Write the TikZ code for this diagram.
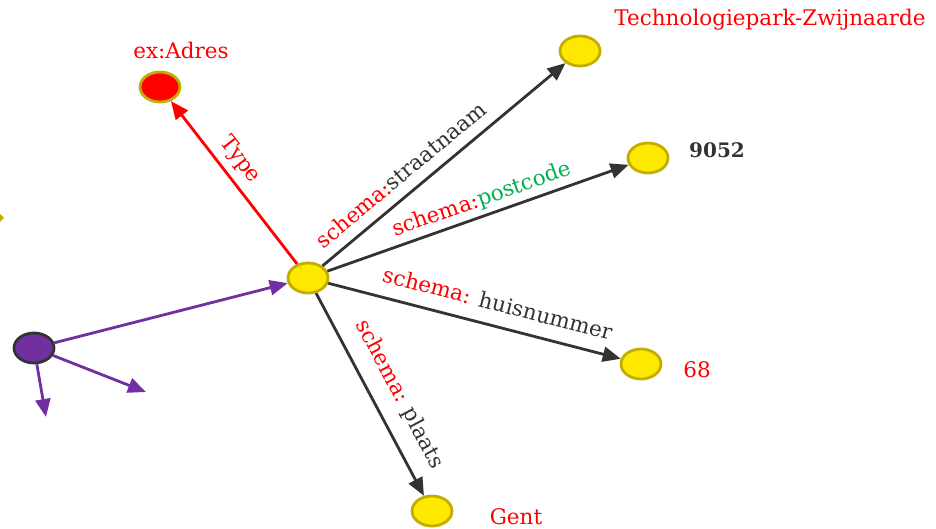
\documentclass[tikz,border=0pt]{standalone}
\usepackage{fontspec}
\setmainfont{DejaVu Serif}
\usetikzlibrary{shapes.geometric,arrows.meta}
\definecolor{myred}{HTML}{FF0000}
\definecolor{mygreen}{HTML}{00B050}
\definecolor{dark}{HTML}{333333}
\definecolor{yfill}{HTML}{FFE800}
\definecolor{yborder}{HTML}{C2AE00}
\definecolor{purp}{HTML}{7030A0}
\begin{document}
\begin{tikzpicture}[x=1pt,y=-1pt,
  res/.style={ellipse, draw=yborder, fill=yfill, line width=2.8pt, minimum width=40pt, minimum height=30pt, inner sep=0pt},
  cls/.style={res, fill=myred},
  subj/.style={ellipse, draw=dark, fill=purp, line width=2.8pt, minimum width=40pt, minimum height=30pt, inner sep=0pt},
  conn/.style={line width=2.8pt, -{Triangle[length=18pt,width=15pt]}},
  txt/.style={font=\fontsize{21.5}{24}\selectfont, inner sep=0pt},
  elbl/.style={font=\fontsize{21.5}{24}\selectfont, sloped, inner sep=0pt, text=dark}]
\path[use as bounding box] (0,0) rectangle (936,529);
\clip (0,0) rectangle (936,529);
% nodes
\node[res] (c) at (308,278) {};
\node[cls] (adres) at (160,87) {};
\node[res] (tech) at (580,51) {};
\node[res] (pc) at (648,158) {};
\node[res] (nr) at (641,364) {};
\node[res] (gent) at (432,511) {};
\node[subj] (s) at (34,348) {};
\coordinate (p1) at (146,392);
\coordinate (p2) at (46,417);
% texts
\node[txt, text=myred] (tadres) at (181,50) {ex:Adres};
\node[txt, text=myred] (ttech) at (770,20) {Technologiepark-Zwijnaarde};
\node[txt, text=dark, font=\fontsize{20}{22}\selectfont\bfseries] (tpc) at (717,150) {9052};
\node[txt, text=myred] (tnr) at (697,370) {68};
\node[txt, text=myred] (tgent) at (516,517) {Gent};
% fragment at left edge
\fill[yborder] (-3,211) -- (4,218) -- (-3,225) -- cycle;
% connectors
\draw[conn, myred] (c) -- node[elbl, pos=0.57, yshift=18.5pt, text=myred] (ltype) {Type} (adres);
\draw[conn, dark] (c) -- node[elbl, pos=0.375, yshift=20pt] (lstr) {\textcolor{myred}{schema:}straatnaam} (tech);
\draw[conn, dark] (c) -- node[elbl, pos=0.53, yshift=16pt] (lpc) {\textcolor{myred}{schema:}\textcolor{mygreen}{postcode}} (pc);
\draw[conn, dark] (c) -- node[elbl, pos=0.56, yshift=23pt] (lnr) {\textcolor{myred}{schema:} huisnummer} (nr);
\draw[conn, dark] (c) -- node[elbl, pos=0.56, yshift=26pt] (lpl) {\textcolor{myred}{schema:} plaats} (gent);
\draw[conn, purp] (s) -- (c);
\draw[conn, purp] (s) -- (p1);
\draw[conn, purp] (s) -- (p2);
\end{tikzpicture}
\end{document}
